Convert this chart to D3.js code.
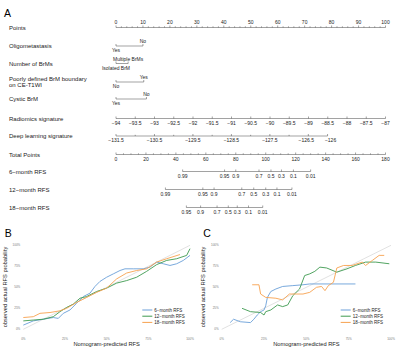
<!DOCTYPE html>
<html>
<head>
<meta charset="utf-8">
<script src="https://cdn.jsdelivr.net/npm/d3@7"></script>
<style>
  body { margin: 0; background: #fff; }
  svg { display: block; font-family: "Liberation Sans", Arial, sans-serif; }
</style>
</head>
<body>
<div id="chart"></div>
<script>
// ---------- nomogram data (A) ----------
const pointTicks = [0, 10, 20, 30, 40, 50, 60, 70, 80, 90, 100];

const oligoLevels = ["Yes", "No"];
const oligoPoints = [0, 10];
const brmLevels = ["Isolated BrM", "Multiple BrMs"];
const brmPoints = [0, 4.5];
const boundaryLevels = ["No", "Yes"];
const boundaryPoints = [0, 10.3];
const cysticLevels = ["Yes", "No"];
const cysticPoints = [0, 11.3];

const radiomicsTicks = [-94, -93.5, -93, -92.5, -92, -91.5, -91, -90.5, -90, -89.5, -89, -88.5, -88, -87.5, -87];
const radiomicsPoints = [0, 100];      // points at -94 and -87
const deepTicks = [-131.5, -131, -130.5, -130, -129.5, -129, -128.5, -128, -127.5, -127, -126.5, -126];
const deepLabels = [-131.5, -130.5, -129.5, -128.5, -127.5, -126.5, -126];
const deepPoints = [0, 78.5];          // points at -131.5 and -126

const totalTicks = [0, 20, 40, 60, 80, 100, 120, 140, 160, 180];

const rfsProbs = [0.99, 0.95, 0.9, 0.7, 0.5, 0.3, 0.1, 0.01];
const rfs6Total  = [44.5, 72.5, 80, 95.5, 103.5, 110.5, 118.5, 130];
const rfs12Total = [33, 58, 65.5, 84, 92, 100, 107.5, 117.5];
const rfs18Probs = [0.95, 0.9, 0.7, 0.5, 0.3, 0.1, 0.01];
const rfs18Total = [47, 56.5, 67.5, 75, 81, 88.5, 98];

// ---------- calibration data (B, C) ----------
const seriesNames = ["6\u2212month RFS", "12\u2212month RFS", "18\u2212month RFS"];
const seriesColors = ["#6a9fd8", "#3d9a4f", "#f7a24f"];
const pctTicks = [0, 0.25, 0.5, 0.75, 1];
const pctLabels = ["0%", "25%", "50%", "75%", "100%"];

const trainPred = [
  [0.0, 0.06, 0.12, 0.18, 0.21, 0.24, 0.28, 0.32, 0.36, 0.40, 0.43, 0.46, 0.50, 0.54, 0.58, 0.61, 0.66, 0.72, 0.76, 0.80, 0.84, 0.88, 0.92, 0.96, 1.0],
  [0.0, 0.06, 0.12, 0.18, 0.22, 0.26, 0.30, 0.34, 0.38, 0.44, 0.50, 0.56, 0.62, 0.68, 0.74, 0.80, 0.86, 0.92, 0.98, 1.0],
  [0.0, 0.06, 0.10, 0.16, 0.22, 0.26, 0.32, 0.38, 0.44, 0.50, 0.56, 0.62, 0.68, 0.74, 0.80, 0.86, 0.94]
];
const trainObs = [
  [0.05, 0.10, 0.12, 0.14, 0.13, 0.19, 0.23, 0.31, 0.39, 0.43, 0.51, 0.57, 0.62, 0.66, 0.70, 0.72, 0.72, 0.72, 0.74, 0.80, 0.78, 0.76, 0.78, 0.82, 0.88],
  [0.10, 0.11, 0.12, 0.15, 0.21, 0.26, 0.30, 0.37, 0.39, 0.45, 0.49, 0.55, 0.58, 0.62, 0.69, 0.77, 0.82, 0.84, 0.88, 0.96],
  [0.14, 0.15, 0.19, 0.20, 0.22, 0.25, 0.32, 0.38, 0.44, 0.49, 0.60, 0.67, 0.70, 0.72, 0.80, 0.84, 0.89]
];
const testPred = [
  [0.05, 0.07, 0.11, 0.17, 0.19, 0.21, 0.23, 0.25, 0.26, 0.27, 0.29, 0.32, 0.36, 0.42, 0.48, 0.52, 0.79],
  [0.12, 0.17, 0.23, 0.25, 0.26, 0.29, 0.33, 0.36, 0.39, 0.42, 0.46, 0.49, 0.52, 0.55, 0.58, 0.62, 0.68, 0.74, 0.79, 0.85, 0.91, 0.99],
  [0.18, 0.22, 0.23, 0.26, 0.32, 0.36, 0.40, 0.44, 0.48, 0.52, 0.56, 0.59, 0.61, 0.63, 0.66, 0.68, 0.72, 0.77, 0.83, 0.85, 0.89, 0.93, 0.96]
];
const testObs = [
  [0.08, 0.12, 0.09, 0.08, 0.12, 0.17, 0.21, 0.23, 0.28, 0.38, 0.45, 0.48, 0.51, 0.52, 0.53, 0.54, 0.54],
  [0.25, 0.21, 0.20, 0.17, 0.21, 0.23, 0.29, 0.27, 0.29, 0.40, 0.48, 0.64, 0.66, 0.69, 0.74, 0.73, 0.68, 0.72, 0.76, 0.80, 0.80, 0.78],
  [0.53, 0.53, 0.42, 0.38, 0.37, 0.35, 0.42, 0.42, 0.42, 0.44, 0.50, 0.51, 0.46, 0.52, 0.56, 0.73, 0.76, 0.76, 0.80, 0.76, 0.82, 0.88, 0.88]
];

// ---------- svg ----------
const W = 400, H = 357;
const svg = d3.select("#chart").append("svg")
  .attr("width", W).attr("height", H)
  .attr("viewBox", `0 0 ${W} ${H}`);
svg.append("rect").attr("width", W).attr("height", H).attr("fill", "#fff");

// ==============================
// A: NOMOGRAM
// ==============================
const gA = svg.append("g");
const xPts = d3.scaleLinear().domain([0, 100]).range([116, 385.5]);
const xTot = d3.scaleLinear().domain([0, 180]).range([116, 385.5]);
const labelFont = 6, tickFont = 5, tickLen = 2;

gA.append("text").attr("x", 4).attr("y", 17).attr("font-size", 10.5).text("A");

function rowLabel(lines, y) {
  const t = gA.append("text").attr("x", 9).attr("font-size", labelFont).attr("fill", "#222");
  lines.forEach((s, i) => {
    t.append("tspan").attr("x", 9)
      .attr("y", y + 2 + (i - (lines.length - 1) / 2) * 6.4).text(s);
  });
}

function hLine(x1, x2, y) {
  gA.append("line").attr("x1", x1).attr("x2", x2).attr("y1", y).attr("y2", y)
    .attr("stroke", "#444").attr("stroke-width", 0.5);
}
function vTick(x, y, len) {
  gA.append("line").attr("x1", x).attr("x2", x).attr("y1", y).attr("y2", y - len)
    .attr("stroke", "#444").attr("stroke-width", 0.5);
}
function tickText(x, y, s, size) {
  gA.append("text").attr("x", x).attr("y", y).attr("text-anchor", "middle")
    .attr("font-size", size || tickFont).attr("fill", "#222").text(s);
}

// Points axis
let y = 27.5;
rowLabel(["Points"], y);
hLine(xPts(0), xPts(100), y);
d3.range(0, 101, 2).forEach(v => vTick(xPts(v), y, pointTicks.includes(v) ? tickLen : 1.2));
pointTicks.forEach(v => tickText(xPts(v), y - 3.5, v));

// categorical rows
function catRow(label, levels, pts, yy) {
  rowLabel(label, yy);
  hLine(xPts(d3.min(pts)), xPts(d3.max(pts)), yy);
  pts.forEach(p => vTick(xPts(p), yy, tickLen));
  levels.forEach((lv, i) => {
    tickText(xPts(pts[i]), i % 2 === 0 ? yy + 6 : yy - 3, lv);
  });
}
catRow(["Oligometastasis"], oligoLevels, oligoPoints, 46);
catRow(["Number of BrMs"], brmLevels, brmPoints, 63.5);
catRow(["Poorly defined BrM boundary", "on CE-T1WI"], boundaryLevels, boundaryPoints, 82);
catRow(["Cystic BrM"], cysticLevels, cysticPoints, 99);

// Radiomics signature
y = 118.5;
rowLabel(["Radiomics signature"], y);
const radX = d3.scaleLinear().domain([radiomicsTicks[0], radiomicsTicks[radiomicsTicks.length - 1]])
  .range(radiomicsPoints.map(xPts));
hLine(radX.range()[0], radX.range()[1], y);
radiomicsTicks.forEach(v => { vTick(radX(v), y, tickLen); tickText(radX(v), y + 6, String(v).replace("-", "\u2212")); });

// Deep learning signature
y = 136;
rowLabel(["Deep learning signature"], y);
const deepX = d3.scaleLinear().domain([deepTicks[0], deepTicks[deepTicks.length - 1]])
  .range(deepPoints.map(xPts));
hLine(deepX.range()[0], deepX.range()[1], y);
deepTicks.forEach(v => vTick(deepX(v), y, deepLabels.includes(v) ? tickLen : 1.2));
deepLabels.forEach(v => {
  const dx = v === -126.5 ? -2 : v === -126 ? 3 : 0;
  tickText(deepX(v) + dx, y + 6, String(v).replace("-", "\u2212"));
});

// Total Points
y = 154.5;
rowLabel(["Total Points"], y);
hLine(xTot(0), xTot(180), y);
d3.range(0, 181, 5).forEach(v => vTick(xTot(v), y, totalTicks.includes(v) ? tickLen : 1.2));
totalTicks.forEach(v => tickText(xTot(v), y + 6, v));

// RFS probability rows
function rfsRow(label, probs, totals, yy) {
  rowLabel([label], yy);
  hLine(xTot(d3.min(totals)), xTot(d3.max(totals)), yy);
  totals.forEach((t, i) => {
    vTick(xTot(t), yy, tickLen);
    tickText(xTot(t), yy + 6, probs[i]);
  });
}
rfsRow("6\u2212month RFS", rfsProbs, rfs6Total, 171.5);
rfsRow("12\u2212month RFS", rfsProbs, rfs12Total, 189.5);
rfsRow("18\u2212month RFS", rfs18Probs, rfs18Total, 207.5);

// ==============================
// B / C: CALIBRATION CURVES
// ==============================
function calibration(tag, x0, x1, preds, obs) {
  const g = svg.append("g");
  const x = d3.scaleLinear().domain([0, 1]).range([x0, x1]);
  const yS = d3.scaleLinear().domain([0, 1]).range([329.3, 245.3]);

  g.append("text").attr("x", x0 - 18.5).attr("y", 236.5).attr("font-size", 10.5).text(tag);

  // reference diagonal
  g.append("line").attr("x1", x(0)).attr("y1", yS(0)).attr("x2", x(1)).attr("y2", yS(1))
    .attr("stroke", "#d4d4d4").attr("stroke-width", 0.7);

  pctTicks.forEach((v, i) => {
    g.append("text").attr("x", x(v)).attr("y", 339.5).attr("text-anchor", "middle")
      .attr("font-size", 3).attr("fill", "#777").text(pctLabels[i]);
    g.append("text").attr("x", x0 - 3).attr("y", yS(v) + 1).attr("text-anchor", "end")
      .attr("font-size", 3).attr("fill", "#777").text(pctLabels[i]);
  });

  g.append("text").attr("x", (x0 + x1) / 2).attr("y", 345.5).attr("text-anchor", "middle")
    .attr("font-size", 5.7).attr("fill", "#222").text("Nomogram-predicted RFS");
  g.append("text").attr("transform", `translate(${x0 - 16.5},${287}) rotate(-90)`)
    .attr("text-anchor", "middle").attr("font-size", 5.7).attr("fill", "#222")
    .text("observed actual RFS probability");

  const line = d3.line().x(d => x(d[0])).y(d => yS(d[1]));
  preds.forEach((p, k) => {
    g.append("path").datum(p.map((v, i) => [v, obs[k][i]]))
      .attr("d", line).attr("fill", "none")
      .attr("stroke", seriesColors[k]).attr("stroke-width", 0.9);
  });

  // legend
  seriesNames.forEach((s, k) => {
    const ly = 310 + k * 6.2;
    const lx = x0 + 119;
    g.append("line").attr("x1", lx).attr("x2", lx + 10).attr("y1", ly).attr("y2", ly)
      .attr("stroke", seriesColors[k]).attr("stroke-width", 1);
    g.append("text").attr("x", lx + 12).attr("y", ly + 1.6)
      .attr("font-size", 4.5).attr("fill", "#222").text(s);
  });
}
calibration("B", 23.3, 190, trainPred, trainObs);
calibration("C", 221.7, 391, testPred, testObs);
</script>
</body>
</html>
